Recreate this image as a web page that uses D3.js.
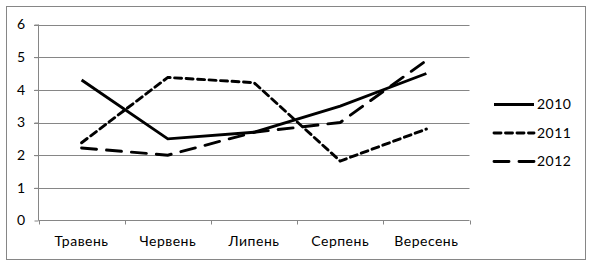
<!DOCTYPE html>
<html><head><meta charset="utf-8">
<script src="https://cdn.jsdelivr.net/npm/d3@7"></script>
<style>body{margin:0;background:#fff}svg{display:block}text{font-family:Lato,"Liberation Sans",sans-serif;font-size:14px;letter-spacing:0.5px;fill:#000}</style>
</head><body>
<script>
const categories = ["Травень","Червень","Липень","Серпень","Вересень"];
const seriesNames = ["2010","2011","2012"];
const values2010 = [4.3, 2.5, 2.7, 3.5, 4.5];
const values2011 = [2.38, 4.38, 4.22, 1.82, 2.8];
const values2012 = [2.22, 2.0, 2.7, 3.0, 4.9];
const yTicks = [0,1,2,3,4,5,6];

const W = 592, H = 265;
const svg = d3.select("body").append("svg").attr("width", W).attr("height", H);
svg.append("rect").attr("x",6.5).attr("y",6.5).attr("width",579).attr("height",253)
  .attr("fill","#fff").attr("stroke","#868686").attr("stroke-width",1);

const x = d3.scaleBand().domain(categories).range([38.5, 469.5]);
const y = d3.scaleLinear().domain([0,6]).range([220.5, 24.5]);

svg.append("g").selectAll("line").data(yTicks.slice(1)).join("line")
  .attr("x1",34).attr("x2",469.5).attr("y1",d=>Math.round(y(d))+0.5).attr("y2",d=>Math.round(y(d))+0.5)
  .attr("stroke","#868686");

const ya = svg.append("g").attr("transform","translate(38.5,0)")
  .call(d3.axisLeft(y).tickValues(yTicks).tickSize(4).tickPadding(9).tickFormat(d3.format("d")));
ya.select(".domain").attr("stroke","#868686").attr("d","M0,24.5V220.5");
ya.selectAll(".tick line").attr("stroke","#868686");
ya.selectAll("text").attr("font-size",14).attr("font-family","Lato").attr("fill","#000");

const xa = svg.append("g").attr("transform","translate(0,220.5)")
  .call(d3.axisBottom(x).tickSize(0).tickPadding(16));
xa.select(".domain").attr("stroke","#868686").attr("d","M38.5,0H469.5");
xa.selectAll("text").attr("font-size",14).attr("font-family","Lato").attr("fill","#000");
const bounds = [...categories.map(c=>x(c)), x.range()[1]];
xa.append("g").selectAll("line").data(bounds).join("line")
  .attr("x1",d=>Math.round(d)+0.5).attr("x2",d=>Math.round(d)+0.5).attr("y1",0).attr("y2",4).attr("stroke","#868686");

const series = [
  {name:"2010", vals:values2010, dash:null, cap:"butt"},
  {name:"2011", vals:values2011, dash:"7,4.5", cap:"round"},
  {name:"2012", vals:values2012, dash:"15,10", cap:"round"}
];
const line = d3.line().x((d,i)=>x(categories[i])+x.bandwidth()/2).y(d=>y(d));
svg.append("g").selectAll("path").data(series).join("path")
  .attr("d",d=>line(d.vals)).attr("fill","none").attr("stroke","#000").attr("stroke-width",2.9)
  .attr("stroke-linecap",d=>d.cap).attr("stroke-dasharray",d=>d.dash);

const lg = svg.append("g");
const ly = [104.5, 133, 161.5];
series.forEach((s,i)=>{
  lg.append("line").attr("x1",494).attr("x2",534).attr("y1",ly[i]).attr("y2",ly[i])
    .attr("stroke","#000").attr("stroke-width",2.9).attr("stroke-linecap",s.cap).attr("stroke-dasharray",s.dash);
  lg.append("text").attr("x",537).attr("y",ly[i]).attr("dy","0.35em").attr("font-size",14).text(seriesNames[i]);
});
</script>
</body></html>
